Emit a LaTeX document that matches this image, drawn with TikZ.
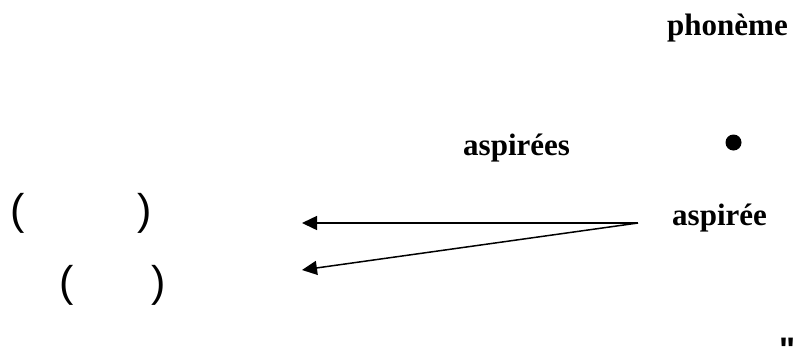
\documentclass[tikz,border=0pt]{standalone}
\usepackage{fontspec}
\setmainfont{Liberation Serif}
\newfontfamily\parenfont{Liberation Sans}
\usetikzlibrary{arrows.meta}
\tikzset{
  lbl/.style={inner sep=0pt, anchor=base west, font=\fontsize{31}{37}\selectfont\bfseries},
  par/.style={inner sep=0pt, anchor=base west, font=\fontsize{43}{50}\selectfont\parenfont},
  arr/.style={line width=1.5pt, -{Triangle[length=15pt,width=14pt]}},
  dot/.style={circle, fill=black, inner sep=0pt, minimum size=16pt}
}
\begin{document}
\begin{tikzpicture}[x=1pt,y=-1pt]
\useasboundingbox (0,0) rectangle (803,349);
\node[lbl] (phon) at (667,35) {phonème};
\node[lbl] (asps) at (463,155) {aspirées};
\node[dot] (bul) at (733.5,142.5) {};
\node[lbl] (asp) at (672,225) {aspirée};
\node[par] (p1) at (10.5,224) {(};
\node[par] (p2) at (137.5,224) {)};
\node[par] (p3) at (59.5,296) {(};
\node[par] (p4) at (151.5,296) {)};
\node[inner sep=0pt, anchor=base west, font=\fontsize{34}{40}\selectfont\bfseries\parenfont] (q) at (779,361) {"};
\coordinate (src) at (638,223);
\coordinate (t1) at (302,223);
\coordinate (t2) at (302,270);
\draw[arr] (src) -- (t1);
\draw[arr] (src) -- (t2);
\end{tikzpicture}
\end{document}
